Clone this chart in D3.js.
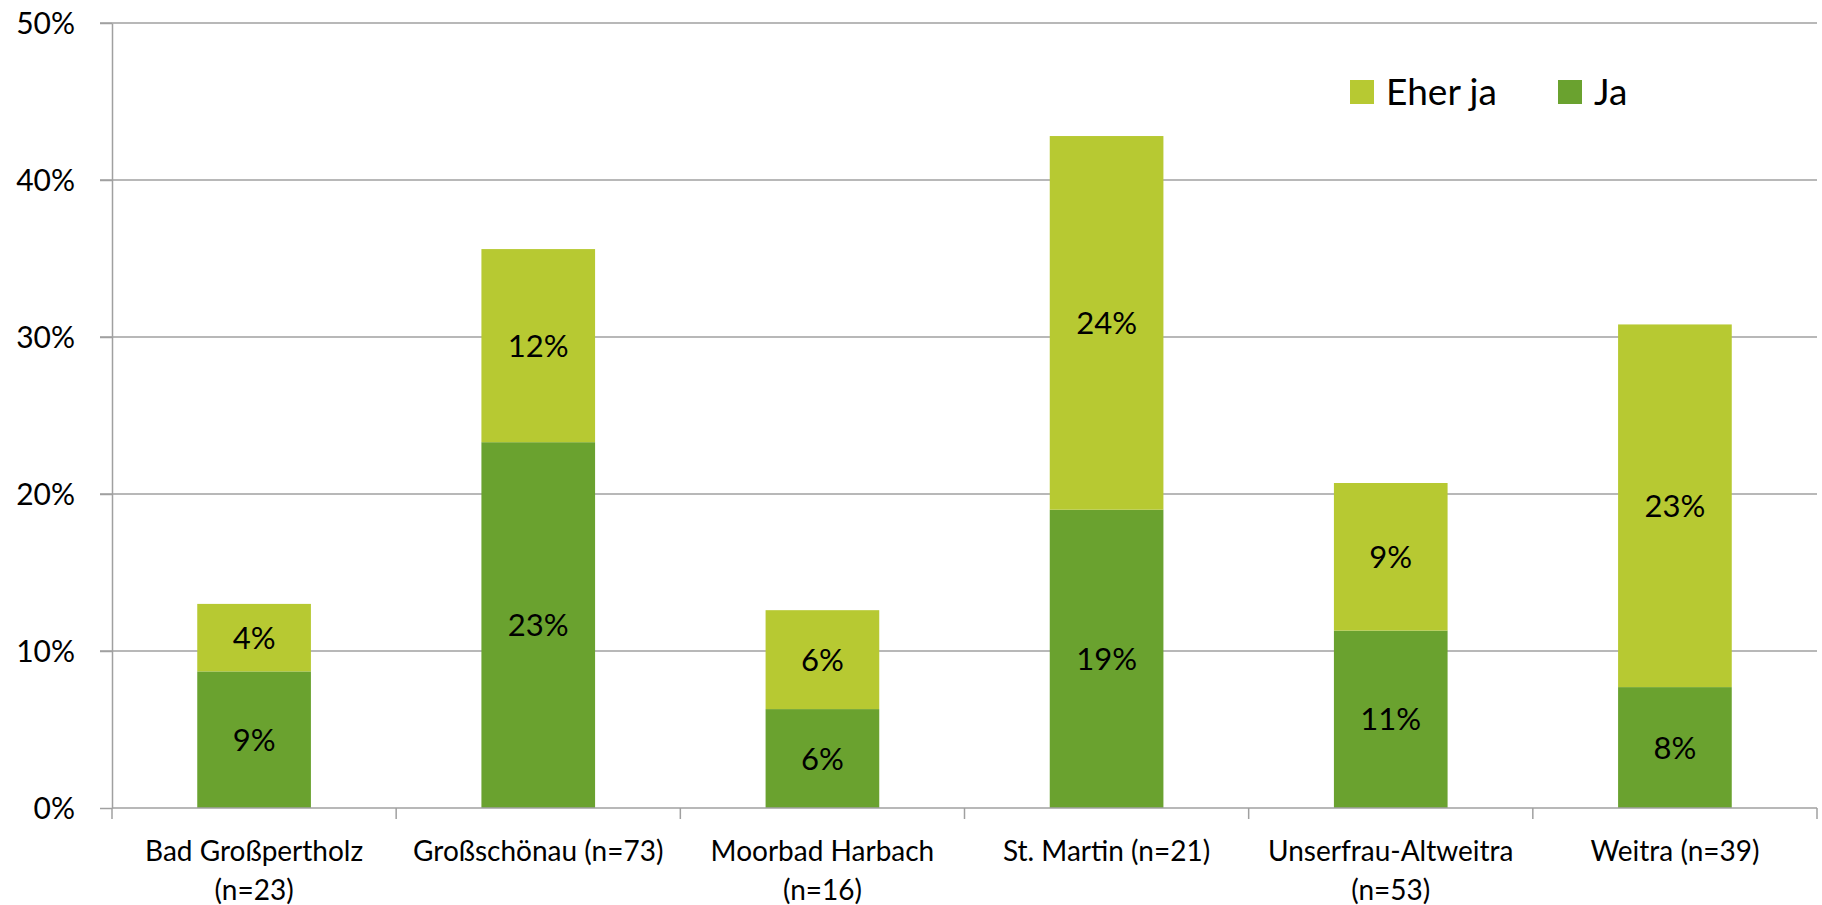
<!DOCTYPE html>
<html>
<head>
<meta charset="utf-8">
<script src="https://cdn.jsdelivr.net/npm/d3@7"></script>
<style>
  html, body { margin: 0; padding: 0; background: #fff; }
  svg text { font-family: Lato, "Open Sans", sans-serif; fill: #000; }
</style>
</head>
<body>
<script>
// data (percent)
const categories = ["Bad Großpertholz\n(n=23)", "Großschönau (n=73)", "Moorbad Harbach\n(n=16)",
  "St. Martin (n=21)", "Unserfrau-Altweitra\n(n=53)", "Weitra (n=39)"]
const ja = [8.7, 23.3, 6.3, 19.0, 11.3, 7.7]
const eherJa = [4.3, 12.3, 6.3, 23.8, 9.4, 23.1]
const jaLabels = ["9%", "23%", "6%", "19%", "11%", "8%"]
const eherJaLabels = ["4%", "12%", "6%", "24%", "9%", "23%"]
const yTicks = [0, 10, 20, 30, 40, 50]

const series = [
  { key: "ja", name: "Ja", color: "#6aa22f", values: ja, labels: jaLabels },
  { key: "eherJa", name: "Eher ja", color: "#b7c932", values: eherJa, labels: eherJaLabels }
]

const W = 1822, H = 905
const margin = { top: 23, right: 5, bottom: 97, left: 112 }
const innerW = W - margin.left - margin.right
const innerH = H - margin.top - margin.bottom

const svg = d3.select("body").append("svg")
  .attr("width", W)
  .attr("height", H)

const g = svg.append("g")
  .attr("transform", `translate(${margin.left},${margin.top})`)

const x = d3.scaleBand()
  .domain(categories)
  .range([0, innerW])
  .paddingInner(0.6)
  .paddingOuter(0.3)

const y = d3.scaleLinear()
  .domain([0, 50])
  .range([innerH, 0])

// stacked rows
const rows = categories.map((c, i) => ({ cat: c, ja: ja[i], eherJa: eherJa[i], i: i }))
const stacked = d3.stack().keys(series.map(s => s.key))(rows)

// gridlines
g.append("g")
  .selectAll("line")
  .data(yTicks.slice(1))
  .join("line")
  .attr("x1", -12)
  .attr("x2", innerW)
  .attr("y1", d => y(d))
  .attr("y2", d => y(d))
  .attr("stroke", "#a0a0a0")
  .attr("stroke-width", 1.5)

// y axis
const yAxis = g.append("g")
  .call(d3.axisLeft(y).tickValues(yTicks).tickFormat(d => d + "%").tickSize(12).tickSizeOuter(0))
yAxis.select(".domain").attr("stroke", "#a0a0a0").attr("stroke-width", 1.5)
yAxis.selectAll(".tick line").attr("stroke", "#a0a0a0").attr("stroke-width", 1.5)
yAxis.selectAll(".tick text")
  .attr("x", -37)
  .style("font-size", "30px")
  .attr("dy", "0.36em")

// bars
series.forEach((s, si) => {
  const layer = stacked[si]
  g.append("g")
    .selectAll("rect")
    .data(layer)
    .join("rect")
    .attr("x", d => x(d.data.cat))
    .attr("width", x.bandwidth())
    .attr("y", d => y(d[1]))
    .attr("height", d => y(d[0]) - y(d[1]))
    .attr("fill", s.color)

  g.append("g")
    .selectAll("text")
    .data(layer)
    .join("text")
    .attr("x", d => x(d.data.cat) + x.bandwidth() / 2)
    .attr("y", d => y((d[0] + d[1]) / 2))
    .attr("dy", "0.36em")
    .attr("text-anchor", "middle")
    .style("font-size", "31px")
    .text(d => s.labels[d.data.i])
})

// x axis
const step = x.step()
const bounds = d3.range(categories.length + 1).map(i => i * step)
g.append("line")
  .attr("x1", 0).attr("x2", innerW)
  .attr("y1", innerH).attr("y2", innerH)
  .attr("stroke", "#a0a0a0").attr("stroke-width", 1.5)
g.append("g")
  .selectAll("line")
  .data(bounds)
  .join("line")
  .attr("x1", d => d).attr("x2", d => d)
  .attr("y1", innerH).attr("y2", innerH + 11)
  .attr("stroke", "#a0a0a0").attr("stroke-width", 1.5)

const catText = g.append("g")
  .selectAll("text")
  .data(categories)
  .join("text")
  .attr("x", d => x(d) + x.bandwidth() / 2)
  .attr("y", innerH + 53)
  .attr("text-anchor", "middle")
  .style("font-size", "28px")
catText.selectAll("tspan")
  .data(d => d.split("\n").map((t, k) => ({ t, k, cx: x(d) + x.bandwidth() / 2 })))
  .join("tspan")
  .attr("x", d => d.cx)
  .attr("dy", d => d.k == 0 ? 0 : 39)
  .text(d => d.t)

// legend
const legendItems = [series[1], series[0]]
const legend = svg.append("g").attr("transform", "translate(1350,80)")
const legX = [0, 208]
legendItems.forEach((s, i) => {
  legend.append("rect")
    .attr("x", legX[i]).attr("y", 0)
    .attr("width", 24).attr("height", 24)
    .attr("fill", s.color)
  legend.append("text")
    .attr("x", legX[i] + 36)
    .attr("y", 12)
    .attr("dy", "0.36em")
    .style("font-size", "37px")
    .text(s.name)
})
</script>
</body>
</html>
